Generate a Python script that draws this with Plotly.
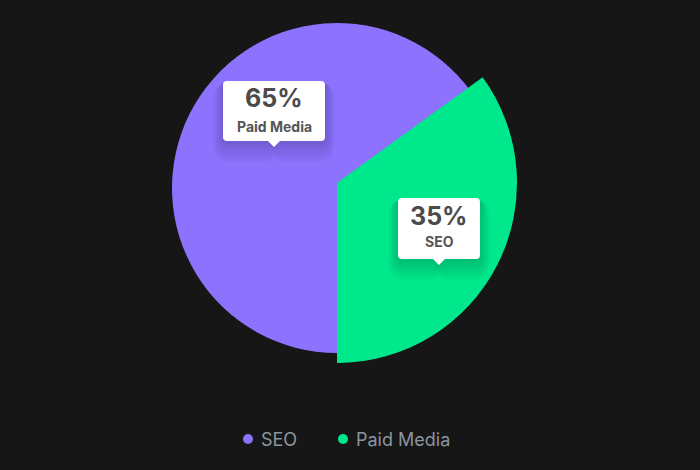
import plotly.graph_objects as go

# ---- data ----
labels = ["SEO", "Paid Media"]
values = [65, 35]
colors = ["#8C72FD", "#00E88C"]
callout_names = ["Paid Media", "SEO"]   # text shown in the callouts (as in the reference)

W, H = 700, 470
BG = "#161616"


def px(x, y):
    return x / W, 1 - y / H


def dom(cx, cy, r):
    return dict(x=[(cx - r) / W, (cx + r) / W], y=[1 - (cy + r) / H, 1 - (cy - r) / H])


fig = go.Figure()

# purple slice (smaller radius)
fig.add_trace(go.Pie(
    labels=labels, values=values, sort=False, direction="clockwise", rotation=180,
    marker=dict(colors=[colors[0], "rgba(0,0,0,0)"], line=dict(width=0)),
    textinfo="none", hoverinfo="label+percent", showlegend=False,
    domain=dom(337, 188, 165),
))
# green slice (pulled out / larger radius)
fig.add_trace(go.Pie(
    labels=labels, values=values, sort=False, direction="clockwise", rotation=180,
    marker=dict(colors=["rgba(0,0,0,0)", colors[1]], line=dict(width=0)),
    textinfo="none", hoverinfo="label+percent", showlegend=False,
    domain=dom(337, 183, 180),
))


def callout_path(x0, y0, x1, y1, tx, ty, r=4, tw=6, dy=0, grow=0):
    x0 -= grow; x1 += grow; y0 += dy - grow; y1 += dy + grow; ty += dy
    pts = [
        ("M", [(x0 + r, y0)]),
        ("L", [(x1 - r, y0)]),
        ("Q", [(x1, y0), (x1, y0 + r)]),
        ("L", [(x1, y1 - r)]),
        ("Q", [(x1, y1), (x1 - r, y1)]),
        ("L", [(tx + tw, y1)]),
        ("L", [(tx, ty)]),
        ("L", [(tx - tw, y1)]),
        ("L", [(x0 + r, y1)]),
        ("Q", [(x0, y1), (x0, y1 - r)]),
        ("L", [(x0, y0 + r)]),
        ("Q", [(x0, y0), (x0 + r, y0)]),
    ]
    s = ""
    for cmd, ps in pts:
        s += cmd + " " + " ".join("%.5f,%.5f" % px(a, b) for a, b in ps) + " "
    return s + "Z"


boxes = [
    dict(b=(223, 81, 325, 141), tip=(274, 147), t1=98, t2=126, big=25),
    dict(b=(398, 198, 480, 259), tip=(439, 265), t1=216, t2=242, big=25),
]

shapes = []
annotations = []
for i, bx in enumerate(boxes):
    x0, y0, x1, y1 = bx["b"]
    tx, ty = bx["tip"]
    for k in range(14, 0, -2):
        shapes.append(dict(type="path", xref="paper", yref="paper",
                           path=callout_path(x0, y0, x1, y1, tx, ty, r=4 + k, dy=k * 0.8, grow=k * 0.7),
                           fillcolor="rgba(0,0,0,0.022)", line=dict(width=0)))
    shapes.append(dict(type="path", xref="paper", yref="paper",
                       path=callout_path(x0, y0, x1, y1, tx, ty),
                       fillcolor="#FFFFFF", line=dict(width=0)))
    cx = (x0 + x1) / 2
    annotations.append(dict(xref="paper", yref="paper", x=cx / W, y=1 - bx["t1"] / H,
                            text="<b>%d%%</b>" % values[i], showarrow=False,
                            xanchor="center", yanchor="middle",
                            font=dict(family="Inter", size=bx["big"], color="#4B4B4B")))
    annotations.append(dict(xref="paper", yref="paper", x=cx / W, y=1 - bx["t2"] / H,
                            text="<b>%s</b>" % callout_names[i], showarrow=False,
                            xanchor="center", yanchor="middle",
                            font=dict(family="Inter", size=14, color="#555555")))

# legend (round markers + labels)
legend_x = [248, 343]
legend_y = 439
for lab, col, lx in zip(labels, colors, legend_x):
    x0, y0 = px(lx - 5, legend_y - 5)
    x1, y1 = px(lx + 5, legend_y + 5)
    shapes.append(dict(type="circle", xref="paper", yref="paper",
                       x0=x0, x1=x1, y0=y1, y1=y0, fillcolor=col, line=dict(width=0)))
    annotations.append(dict(xref="paper", yref="paper", x=(lx + 11) / W, y=1 - legend_y / H,
                            text=lab, showarrow=False, xanchor="left", yanchor="middle",
                            font=dict(family="Inter", size=18, color="#8B959E")))

fig.update_layout(
    width=W, height=H,
    paper_bgcolor=BG, plot_bgcolor=BG,
    margin=dict(l=0, r=0, t=0, b=0),
    showlegend=False,
    shapes=shapes,
    annotations=annotations,
)

fig.write_html("out.html", config={"displayModeBar": False})
with open("out.html", "r", encoding="utf-8") as f:
    html = f.read()
html = html.replace("<head>", "<head><style>html,body{margin:0;padding:0;overflow:hidden;background:%s}</style>" % BG, 1)
with open("out.html", "w", encoding="utf-8") as f:
    f.write(html)
